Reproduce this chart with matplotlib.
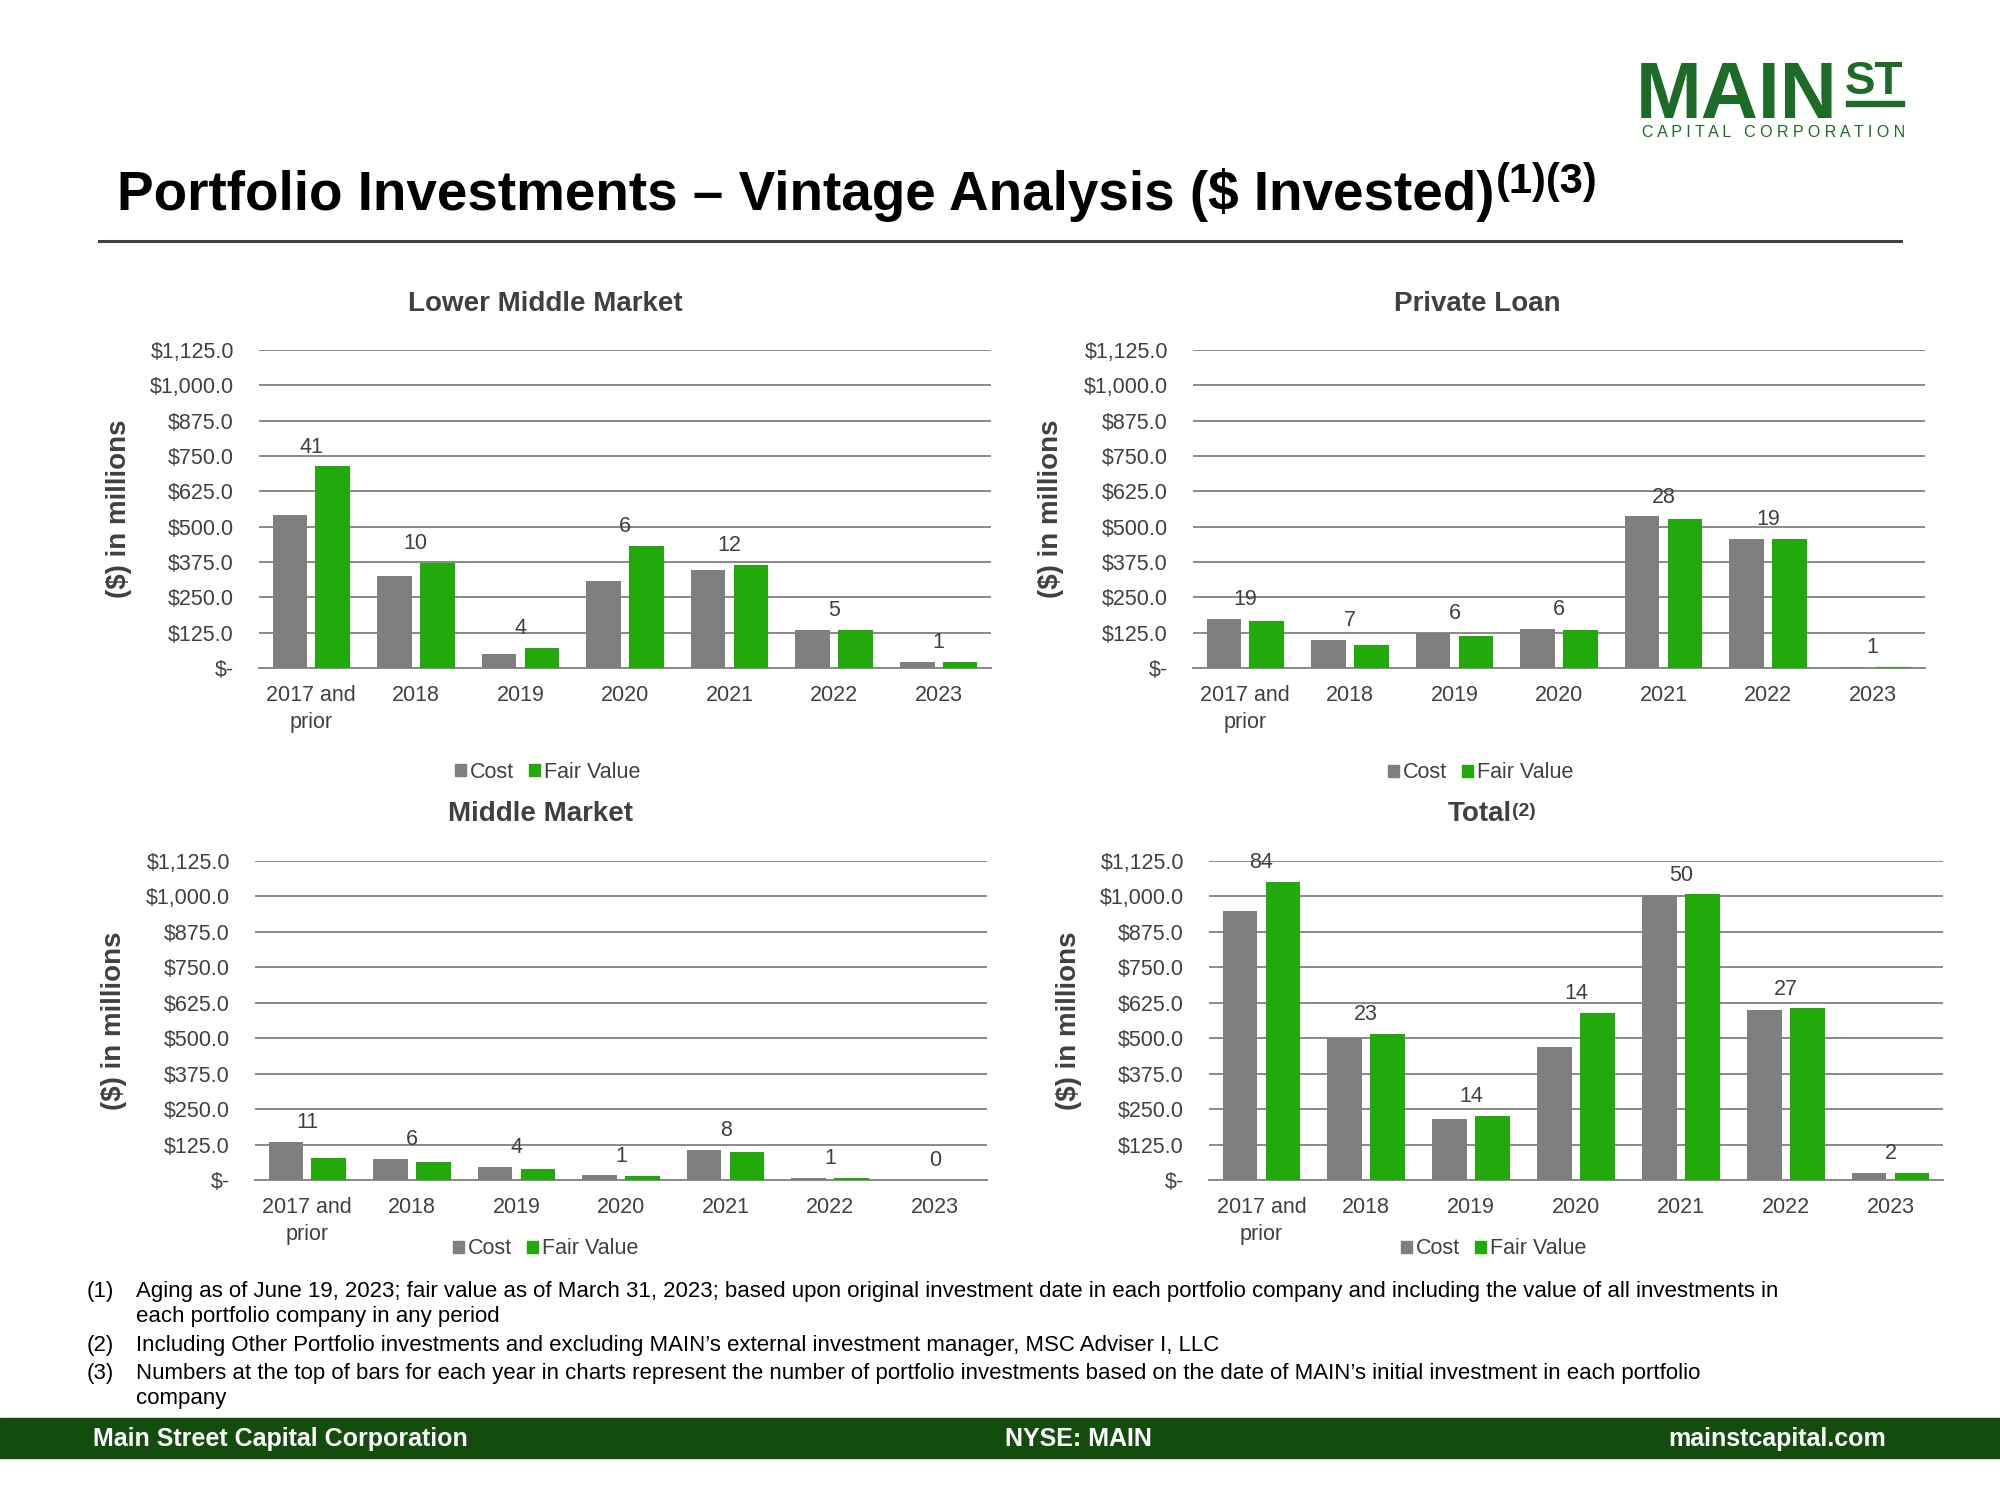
import matplotlib
matplotlib.use("Agg")
import matplotlib.pyplot as plt
from matplotlib.patches import Rectangle
from matplotlib.ticker import FuncFormatter, MultipleLocator

plt.rcParams['font.family'] = ['Liberation Sans', 'DejaVu Sans']

# ---- data ($ in millions) ----
categories = ["2017 and\nprior", "2018", "2019", "2020", "2021", "2022", "2023"]

lmm_cost = [543, 326, 51, 309, 345, 135, 22]
lmm_fair = [713, 370, 72, 433, 366, 136, 22]
lmm_counts = [41, 10, 4, 6, 12, 5, 1]

pl_cost = [172, 98, 123, 138, 536, 455, 2]
pl_fair = [165, 81, 113, 135, 527, 458, 3]
pl_counts = [19, 7, 6, 6, 28, 19, 1]

mm_cost = [135, 75, 45, 16, 107, 8, 0]
mm_fair = [79, 64, 40, 14, 97, 8, 0]
mm_counts = [11, 6, 4, 1, 8, 1, 0]

total_cost = [949, 501, 216, 468, 1004, 600, 24]
total_fair = [1050, 516, 227, 590, 1007, 605, 24]
total_counts = [84, 23, 14, 14, 50, 27, 2]

footnotes = [
    ("(1)", "Aging as of June 19, 2023; fair value as of March 31, 2023; based upon original investment date in each portfolio company and including the value of all investments in\neach portfolio company in any period"),
    ("(2)", "Including Other Portfolio investments and excluding MAIN\u2019s external investment manager, MSC Adviser I, LLC"),
    ("(3)", "Numbers at the top of bars for each year in charts represent the number of portfolio investments based on the date of MAIN\u2019s initial investment in each portfolio\ncompany"),
]

COST_COLOR = '#7f7f7f'
FAIR_COLOR = '#22a90c'
TEXT_GRAY = '#404040'
GRID_GRAY = '#898989'
DARK_GREEN = '#134d0e'
LOGO_GREEN = '#1c6b27'

W, H = 2000, 1500
fig = plt.figure(figsize=(20, 15), dpi=100)
renderer = fig.canvas.get_renderer()


def px(x, y):
    """pixel coords (top-left origin) -> figure fraction"""
    return x / W, 1 - y / H


def money(v, _pos):
    if v == 0:
        return '$-'
    return '${:,.1f}'.format(v)


def draw_panel(rect, cost, fair, counts):
    ax = fig.add_axes(rect)
    x = range(len(categories))
    off, bw = 0.205, 0.33
    ax.bar([i - off for i in x], cost, width=bw, color=COST_COLOR, zorder=3)
    ax.bar([i + off for i in x], fair, width=bw, color=FAIR_COLOR, zorder=3)
    for i, n in enumerate(counts):
        top = max(cost[i], fair[i])
        ax.annotate(str(n), (i, top), xytext=(0, 14), textcoords='offset points',
                    ha='center', va='center', fontsize=15.5, color=TEXT_GRAY)
    ax.set_xlim(-0.5, len(categories) - 0.5)
    ax.set_ylim(0, 1125)
    ax.yaxis.set_major_locator(MultipleLocator(125))
    ax.yaxis.set_major_formatter(FuncFormatter(money))
    ax.grid(axis='y', color=GRID_GRAY, linewidth=1.4, zorder=0)
    for s in ['top', 'right', 'left']:
        ax.spines[s].set_visible(False)
    ax.spines['bottom'].set_color(GRID_GRAY)
    ax.spines['bottom'].set_linewidth(1.4)
    ax.set_xticks(list(x))
    ax.set_xticklabels(categories, fontsize=15.5, color=TEXT_GRAY, linespacing=1.4)
    ax.tick_params(axis='x', length=0, pad=12)
    ax.tick_params(axis='y', length=0, pad=18, labelsize=15.5, labelcolor=TEXT_GRAY)
    return ax


def rect_from_px(x0, x1, ytop, ybot):
    return [x0 / W, 1 - ybot / H, (x1 - x0) / W, (ybot - ytop) / H]


panels = [
    ("Lower Middle Market", None, rect_from_px(259, 991, 350, 668), lmm_cost, lmm_fair, lmm_counts, 545, 304, 119, 548, 772),
    ("Private Loan", None, rect_from_px(1193, 1925, 350, 668), pl_cost, pl_fair, pl_counts, 1477, 304, 1051, 1481, 773),
    ("Middle Market", None, rect_from_px(255, 987, 861, 1180), mm_cost, mm_fair, mm_counts, 540, 814, 114, 546, 1249),
    ("Total", "(2)", rect_from_px(1209, 1943, 861, 1180), total_cost, total_fair, total_counts, 1480, 814, 1069, 1494, 1249),
]

for title, sup, rect, cost, fair, counts, tx, ty, ylx, lgx, lgy in panels:
    ax = draw_panel(rect, cost, fair, counts)
    t = fig.text(*px(tx, ty), title, ha='center', va='center', fontsize=20,
                 fontweight='bold', color=TEXT_GRAY)
    if sup:
        bb = t.get_window_extent(renderer)
        fig.text(bb.x1 / W, bb.y1 / H - 0.001, sup, ha='left', va='top',
                 fontsize=14, fontweight='bold', color=TEXT_GRAY)
    yc = (rect[1] + rect[3] / 2)
    fig.text(ylx / W, yc, "($) in millions", rotation=90, ha='center', va='center',
             fontsize=20, fontweight='bold', color=TEXT_GRAY)
    handles = [Rectangle((0, 0), 1, 1, color=COST_COLOR), Rectangle((0, 0), 1, 1, color=FAIR_COLOR)]
    fig.legend(handles, ["Cost", "Fair Value"], loc='center', bbox_to_anchor=px(lgx, lgy),
               ncol=2, frameon=False, fontsize=15.5, labelcolor=TEXT_GRAY,
               handlelength=0.5, handleheight=0.5, handletextpad=0.2, columnspacing=0.7)

# ---- page title ----
title = fig.text(*px(117, 195), "Portfolio Investments \u2013 Vintage Analysis ($ Invested)",
                 ha='left', va='center', fontsize=39.5, fontweight='bold', color='black')
bb = title.get_window_extent(renderer)
fig.text(bb.x1 / W + 0.0005, bb.y1 / H + 0.004, "(1)(3)", ha='left', va='top',
         fontsize=30, fontweight='bold', color='black')
fig.add_artist(plt.Line2D([99 / W, 1901 / W], [1 - 241 / H] * 2, color=TEXT_GRAY, linewidth=2.2))

# ---- logo ----
fig.text(*px(1636, 118), "MAIN", ha='left', va='baseline', fontsize=57, fontweight='bold', color=LOGO_GREEN)
fig.text(*px(1845, 94), "ST", ha='left', va='baseline', fontsize=33, fontweight='bold', color=LOGO_GREEN)
fig.add_artist(Rectangle(px(1846, 106), 58 / W, 5 / H, color=LOGO_GREEN, transform=fig.transFigure))
fig.text(*px(1905, 137), "C A P I T A L   C O R P O R A T I O N", ha='right', va='baseline',
         fontsize=11.5, color=LOGO_GREEN)

# ---- footnotes ----
lines_y = [1281, 1335, 1363]
for (num, txt), y in zip(footnotes, lines_y):
    fig.text(*px(87, y), num, ha='left', va='top', fontsize=16, color='black')
    fig.text(*px(136, y), txt, ha='left', va='top', fontsize=16, color='black', linespacing=1.27)

# ---- footer band ----
fig.add_artist(Rectangle((0, 1 - 1458 / H), 1, 40 / H, color=DARK_GREEN, transform=fig.transFigure))
fig.text(*px(93, 1439), "Main Street Capital Corporation", ha='left', va='center', fontsize=18,
         fontweight='bold', color='white')
fig.text(*px(1078, 1439), "NYSE: MAIN", ha='center', va='center', fontsize=18,
         fontweight='bold', color='white')
fig.text(*px(1886, 1439), "mainstcapital.com", ha='right', va='center', fontsize=18,
         fontweight='bold', color='white')

fig.savefig("out.png", dpi=100, facecolor='white')
